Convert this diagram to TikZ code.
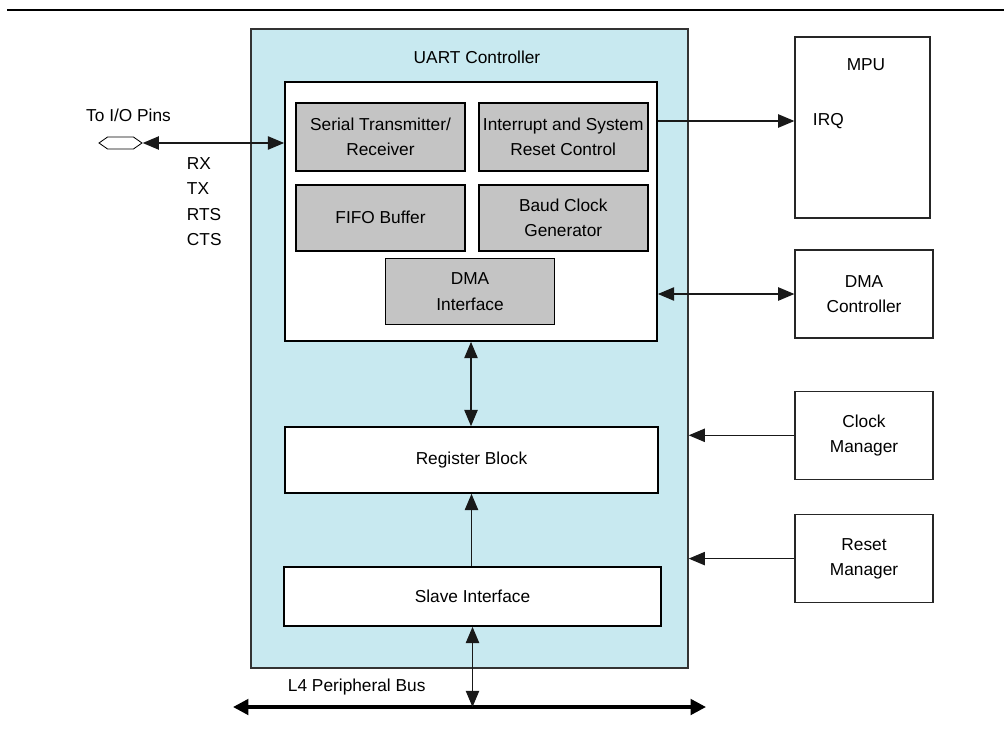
\documentclass[tikz,border=0pt]{standalone}
\usepackage{fontspec}
\setmainfont{Liberation Sans}
\usetikzlibrary{positioning,fit,arrows.meta,shapes.symbols}

\definecolor{uartblue}{RGB}{200,233,240}
\definecolor{blockgray}{RGB}{196,196,196}

\begin{document}
\begin{tikzpicture}[x=0.025cm,y=-0.025cm,
	every node/.style={font=\fontsize{12.3}{18}\selectfont},
	unit/.style={rectangle,draw=black,line width=1.2pt,fill=blockgray,minimum width=4.225cm,minimum height=1.65cm,align=center,inner sep=0pt},
	plainbox/.style={rectangle,draw=black,line width=1.2pt,fill=white,align=center,inner sep=0pt},
	extbox/.style={rectangle,draw=black!85,line width=0.9pt,minimum width=3.45cm,minimum height=2.2cm,align=center,inner sep=0pt},
	link/.style={draw=black!90,line width=0.8pt,-{Triangle[length=11.5pt,width=9.5pt]}},
	dlink/.style={link,{Triangle[length=11.5pt,width=9.5pt]}-{Triangle[length=11.5pt,width=9.5pt]}}
	]

				\useasboundingbox (0,0) rectangle (1004,749);
				\draw[line width=1.5pt] (7,10) -- (1004,10);

				% controller frame
				\node[fit={(251,29) (688,668)},inner sep=0pt,draw=black!80,line width=1pt,fill=uartblue] (uart) {};
				\node (uartlabel) at (477,57) {UART Controller};

				\node[plainbox,minimum width=9.3cm,minimum height=6.475cm] (core) at (471,211.5) {};
				\node[unit,minimum height=1.7cm] (serial) at (380.5,137) {Serial Transmitter/\\Receiver};
				\node[unit,minimum height=1.7cm,right=0.3cm of serial] (intr) {Interrupt and System\\Reset Control};
				\node[unit,below=0.3cm of serial] (fifo) {FIFO Buffer};
				\node[unit,below=0.3cm of intr] (baud) {Baud Clock\\Generator};
				\node[unit] (dmaif) at (470,291.5) {DMA\\Interface};

				\node[plainbox,minimum width=9.325cm,minimum height=1.65cm] (regblk) at (471.5,460) {Register Block};
				\node[plainbox,minimum width=9.425cm,minimum height=1.475cm] (slave) at (472.5,596.5) {Slave Interface};

				% outside blocks
				\node[extbox,minimum width=3.375cm,minimum height=4.525cm] (mpu) at (862.5,127.5) {};
				\node (mpulabel) at (866,65) {MPU};
				\node[anchor=west] (irq) at (808,121) {IRQ};
				\node[extbox] (dmac) at (864,294) {DMA\\Controller};
				\node[extbox,below=1.3cm of dmac] (clkmgr) {Clock\\Manager};
				\node[extbox,below=0.85cm of clkmgr] (rstmgr) {Reset\\Manager};

				% pins
				\node[signal,signal to=west and east,signal pointer angle=70,draw=black,fill=white,line width=0.6pt,minimum width=1.075cm,minimum height=0.3cm,inner sep=0pt] (pin) at (120.5,143) {};
				\node (pinlabel) at (128.5,115) {To I/O Pins};
				\node[anchor=west,align=left] (sigs) at (182,201.5) {RX\\TX\\RTS\\CTS};

				\draw[dlink] (pin.east) -- (pin -| core.west);
				\draw[link] (irq -| core.east) -- (irq -| mpu.west);
				\draw[dlink] (dmac.west -| core.east) -- (dmac.west);
				\draw[link] (clkmgr.west) -- (clkmgr.west -| uart.east);
				\draw[link] (rstmgr.west) -- (rstmgr.west -| uart.east);
				\draw[dlink] (core.south) -- (core.south |- regblk.north);
				\draw[link] (regblk.south |- slave.north) -- (regblk.south);

				% peripheral bus
				\coordinate (busL) at (233,707);
				\coordinate (busR) at (706,707);
				\draw[line width=2.5pt,{Triangle[length=11pt,width=11pt]}-{Triangle[length=11pt,width=11pt]}] (busL) -- (busR);
				\node[anchor=west] (buslabel) at (283,687) {L4 Peripheral Bus};
				\draw[dlink] (slave.south) -- (slave.south |- busL);

\end{tikzpicture}
\end{document}
